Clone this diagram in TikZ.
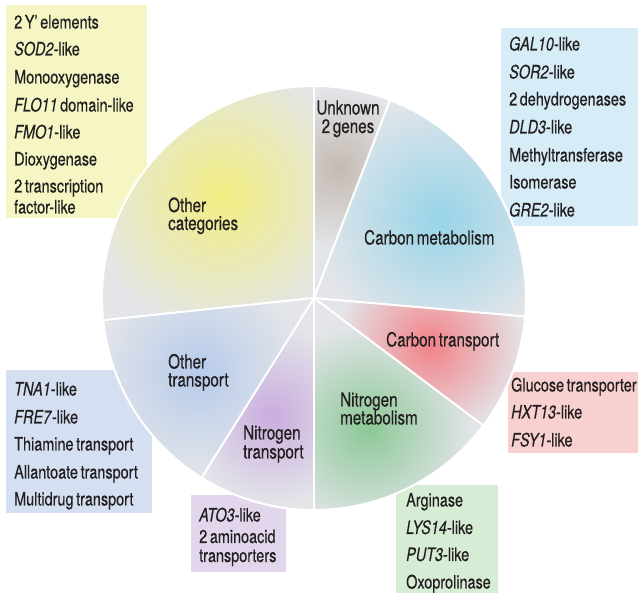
\documentclass[tikz,border=0pt]{standalone}
\usepackage{fontspec}
\setmainfont{TeX Gyre Heros}[FakeStretch=0.78, WordSpace=0.65, FakeBold=0.3]
\definecolor{ink}{RGB}{35,31,32}
\definecolor{pgrey}{RGB}{227,229,233}
\definecolor{yelbox}{RGB}{245,246,196}
\definecolor{bluebox}{RGB}{214,236,246}
\definecolor{pinkbox}{RGB}{248,208,208}
\definecolor{greenbox}{RGB}{214,236,212}
\definecolor{lavbox}{RGB}{226,214,236}
\definecolor{otbox}{RGB}{212,224,242}
\definecolor{gyel}{RGB}{242,238,130}
\definecolor{gunk}{RGB}{196,186,178}
\definecolor{gcm}{RGB}{150,212,232}
\definecolor{gct}{RGB}{242,130,135}
\definecolor{gnm}{RGB}{140,200,150}
\definecolor{gnt}{RGB}{202,172,222}
\definecolor{got}{RGB}{182,202,234}
\begin{document}
\begin{tikzpicture}[x=1pt,y=1pt,
  item/.style={anchor=base west, inner sep=0pt, text=ink, font=\fontsize{18.5}{20}\selectfont},
  lab/.style={anchor=base west, inner sep=0pt, text=ink, font=\fontsize{19.5}{20}\selectfont},
  labc/.style={lab, anchor=base},
  sep/.style={draw=white, line width=2pt}]
\useasboundingbox (0,0) rectangle (638,593);
% boxes
\fill[yelbox]   (6,588) rectangle (147,375);
\fill[bluebox]  (501,565) rectangle (638,367);
\fill[pinkbox]  (508,221) rectangle (638,140);
\fill[greenbox] (396,108) rectangle (498,0);
\fill[lavbox]   (191,98) rectangle (286,21);
\fill[otbox]    (6,223) rectangle (152,80);
% pie
\coordinate (c) at (314,295);
\def\R{212}
\newcommand{\slice}[5]{% a1 a2 colour glowcentre glowradius
  \begin{scope}
    \clip (c) -- ++(#1:\R) arc[start angle=#1, end angle=#2, radius=\R] -- cycle;
    \fill[pgrey] (c) circle (\R);
    \shade[inner color=#3, outer color=pgrey] #4 circle (#5);
  \end{scope}}
\slice{69}{90}{gunk}{(338,425)}{80}
\slice{90}{186}{gyel}{(222,398)}{140}
\slice{186}{238}{got}{(198,220)}{105}
\slice{238}{270}{gnt}{(272,178)}{90}
\slice{270}{323}{gnm}{(368,165)}{105}
\slice{323}{355}{gct}{(430,248)}{95}
\slice{-5}{69}{gcm}{(440,375)}{125}
\foreach \a in {69,90,186,238,270,323,355}
  \draw[sep] (c) -- ++(\a:\R);
\draw[sep] (c) circle (\R);
% box texts
\node[item] (y1) at (14,564.5) {2 Y’ elements};
\node[item] (y2) at (14,537.5) {\textit{SOD2}-like};
\node[item] (y3) at (14,509.5) {Monooxygenase};
\node[item] (y4) at (14,481.5) {\textit{FLO11} domain-like};
\node[item] (y5) at (14,454.5) {\textit{FMO1}-like};
\node[item] (y6) at (14,427.5) {Dioxygenase};
\node[item] (y7) at (14,400.5) {2 transcription};
\node[item] (y8) at (14,379.5) {factor-like};
\node[item] (b1) at (509,542.5) {\textit{GAL10}-like};
\node[item] (b2) at (509,514.5) {\textit{SOR2}-like};
\node[item] (b3) at (509,487.5) {2 dehydrogenases};
\node[item] (b4) at (509,459.5) {\textit{DLD3}-like};
\node[item] (b5) at (509,431.5) {Methyltransferase};
\node[item] (b6) at (509,404.5) {Isomerase};
\node[item] (b7) at (509,376.5) {\textit{GRE2}-like};
\node[item] (p1) at (511,201.5) {Glucose transporter};
\node[item] (p2) at (511,174.5) {\textit{HXT13}-like};
\node[item] (p3) at (511,146.5) {\textit{FSY1}-like};
\node[item] (g1) at (406,86.5) {Arginase};
\node[item] (g2) at (406,59) {\textit{LYS14}-like};
\node[item] (g3) at (406,32) {\textit{PUT3}-like};
\node[item] (g4) at (406,4.5) {Oxoprolinase};
\node[item] (l1) at (199,71.5) {\textit{ATO3}-like};
\node[item] (l2) at (199,50) {2 aminoacid};
\node[item] (l3) at (199,31) {transporters};
\node[item] (o1) at (14,197.5) {\textit{TNA1}-like};
\node[item] (o2) at (14,169.5) {\textit{FRE7}-like};
\node[item] (o3) at (14,142.5) {Thiamine transport};
\node[item] (o4) at (14,114.5) {Allantoate transport};
\node[item] (o5) at (14,87.5) {Multidrug transport};
% slice labels
\node[labc] (u1) at (348,478.5) {Unknown};
\node[labc] (u2) at (348,460) {2 genes};
\node[lab] (oc1) at (168,381) {Other};
\node[lab] (oc2) at (168,363) {categories};
\node[lab] (cm) at (364,348.5) {Carbon metabolism};
\node[lab] (ct) at (386,246.5) {Carbon transport};
\node[lab] (nm1) at (340,186.5) {Nitrogen};
\node[lab] (nm2) at (340,168.5) {metabolism};
\node[lab] (nt1) at (243,153.5) {Nitrogen};
\node[lab] (nt2) at (243,134.5) {transport};
\node[lab] (ot1) at (168,224.5) {Other};
\node[lab] (ot2) at (168,206.5) {transport};
\end{tikzpicture}
\end{document}
